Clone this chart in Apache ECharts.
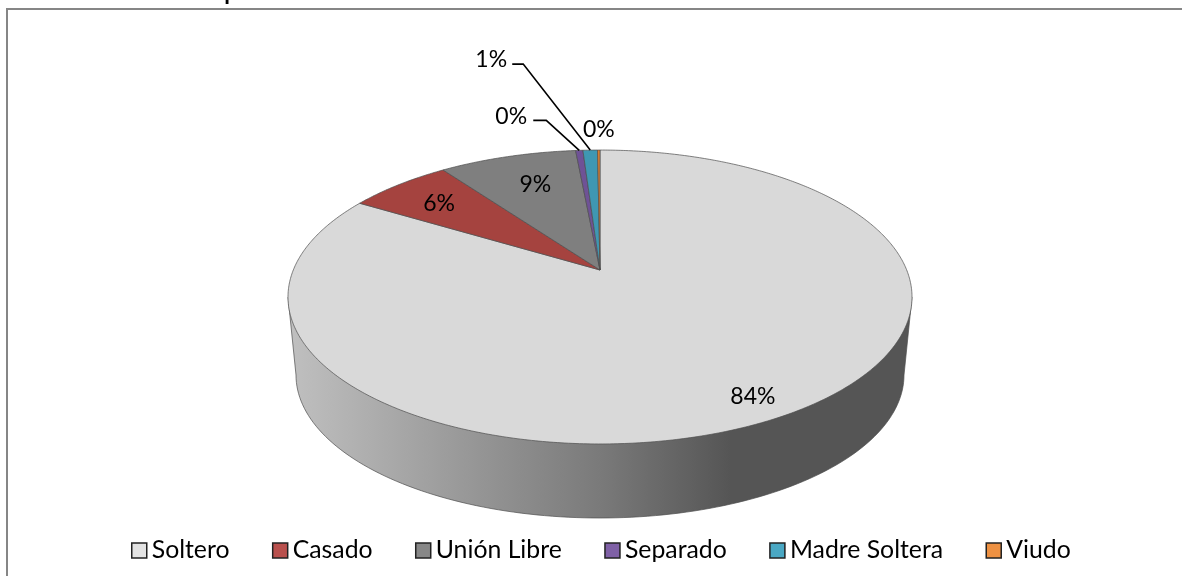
<!DOCTYPE html>
<html><head><meta charset="utf-8">
<style>html,body{margin:0;padding:0;background:#fff;overflow:hidden}#c{width:1182px;height:576px}</style>
<script src="https://cdn.jsdelivr.net/npm/echarts@6/dist/echarts.min.js"></script>
</head><body><div id="c"></div>
<script>
const categories = ['Soltero','Casado','Unión Libre','Separado','Madre Soltera','Viudo'];
const shares = [83.6, 6.4, 8.5, 0.45, 0.9, 0.15];
const sliceColors = ['#d9d9d9','#a5433f','#7f7f7f','#6f5296','#3f97b2','#e0812f'];
const legendColors = ['#e3e3e3','#b9504d','#878787','#7f60a6','#4aa8c4','#ee9142'];
const titleText = 'Gráfico: Estudiantes por estado civil';

// Layout of the drawing (not data)
const FONT = 'Lato';
const APEX = {x:600, y:270};
const K = 0.1837, C = 142, D = 306.7;     // perspective of the disc
const TOP = {cy:297, rx:312};
const BASE = {cy:375, rx:304, ry:143};
const labelLayout = [
  {frac:.85, dx:0, dy:2},{frac:.79, dx:-2, dy:1},{frac:.72, dx:2, dy:-4},
  {frac:1, dx:-68, dy:-34, elbowDx:-33, elbowDy:-30, lineDx:-46},
  {frac:1, dx:-99, dy:-91, elbowDx:-67, elbowDy:-86, lineDx:-78},
  {frac:1, dx:0, dy:-20}
];

function project(theta){
  const u = Math.sin(theta), v = -Math.cos(theta), w = 1 - K*v;
  return [D*u/w, C*v/w];
}
const total = shares.reduce((a,b)=>a+b,0);
let running = 0;
const sliceSeries = categories.map((name,i)=>{
  const start = running; running += shares[i];
  return {
    type:'custom', name, coordinateSystem:'none', silent:true, z:3,
    itemStyle:{color:legendColors[i]},
    data:[{name, value:[shares[i], start]}],
    renderItem(params, api){
      const a0 = api.value(1)/total*2*Math.PI;
      const a1 = (api.value(1)+api.value(0))/total*2*Math.PI;
      const n = Math.max(2, Math.ceil((a1-a0)/0.01));
      const pts = [[APEX.x,APEX.y]];
      for(let j=0;j<=n;j++){
        const p = project(a0+(a1-a0)*j/n);
        pts.push([APEX.x+p[0], APEX.y+p[1]]);
      }
      const children = [{type:'polygon', z2:1, shape:{points:pts},
        style:{fill:sliceColors[i], stroke:'#4d4d4d', lineWidth:0.7}}];
      const mid = project((a0+a1)/2);
      const rim = [APEX.x+mid[0], APEX.y+mid[1]];
      const L = labelLayout[i];
      const pos = [APEX.x+mid[0]*L.frac+L.dx, APEX.y+mid[1]*L.frac+L.dy];
      if(L.elbowDx!=null){
        children.push({type:'polyline', z2:5, shape:{points:[
          rim,[rim[0]+L.elbowDx,rim[1]+L.elbowDy],[rim[0]+L.lineDx,rim[1]+L.elbowDy]]},
          style:{stroke:'#000', lineWidth:1.6, fill:null}});
      }
      children.push({type:'text', z2:6, x:pos[0], y:pos[1], style:{
        text:Math.round(api.value(0)/total*100)+'%', font:'23px '+FONT, fill:'#000',
        textAlign:'center', textVerticalAlign:'middle'}});
      return {type:'group', children};
    }
  };
});
const wallSeries = {
  type:'custom', name:'wall', coordinateSystem:'none', silent:true, z:2,
  data:[[0]],
  renderItem(){
    const pts=[], N=120;
    for(let j=0;j<=N;j++){
      const t=Math.PI-Math.PI*j/N;
      pts.push([APEX.x+BASE.rx*Math.cos(t), BASE.cy+BASE.ry*Math.sin(t)]);
    }
    pts.push([APEX.x+TOP.rx, TOP.cy],[APEX.x-TOP.rx, TOP.cy]);
    return {type:'polygon', shape:{points:pts}, style:{
      fill:{type:'linear',x:0,y:0,x2:1,y2:0,colorStops:[
        {offset:0,color:'#c0c0c0'},{offset:.5,color:'#7a7a7a'},{offset:.71,color:'#555555'},{offset:1,color:'#555555'}]},
      stroke:'#4d4d4d', lineWidth:0.7}};
  }
};
const chart = echarts.init(document.getElementById('c'), null, {renderer:'canvas'});
chart.setOption({
  animation:false,
  backgroundColor:'#fff',
  title:{text:titleText, left:9, top:-24, textStyle:{fontFamily:FONT, fontSize:23, fontWeight:'bold', color:'#000'}},
  graphic:[{type:'rect', silent:true, z:0, shape:{x:7,y:9,width:1300,height:700},
    style:{fill:'#fff', stroke:'#868686', lineWidth:2}}],
  legend:{
    left:126, top:533, itemWidth:15, itemHeight:15, itemGap:42.4, icon:'rect', selectedMode:false,
    textStyle:{fontFamily:FONT, fontSize:24.8, color:'#000'},
    data:categories.map((name,i)=>({name, icon:'rect',
      itemStyle:{color:legendColors[i], borderColor:'#222', borderWidth:1.5}}))
  },
  series:[wallSeries, ...sliceSeries]
});
</script></body></html>
